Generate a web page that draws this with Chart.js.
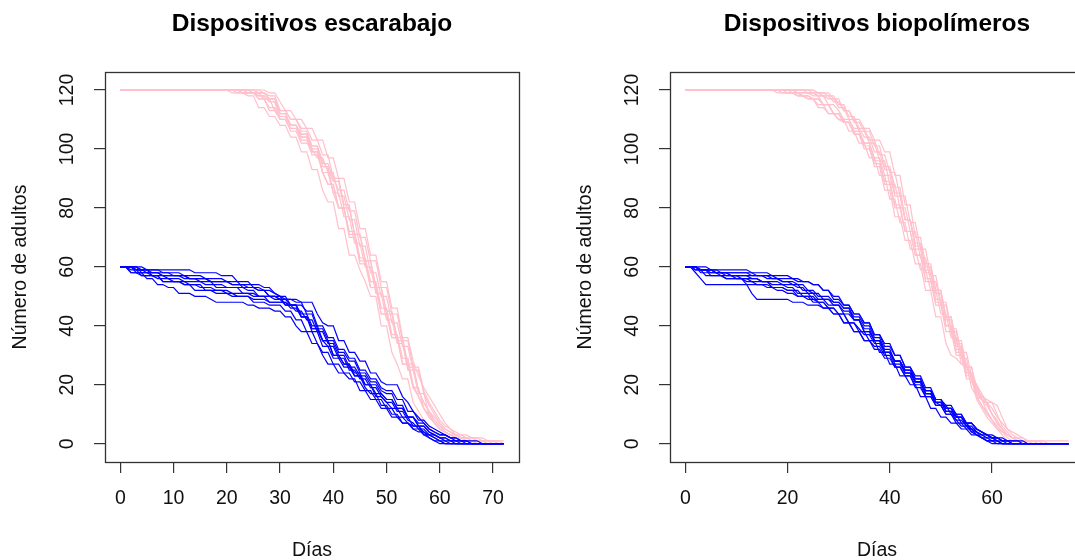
<!DOCTYPE html>
<html>
<head>
<meta charset="utf-8">
<script src="https://cdn.jsdelivr.net/npm/chart.js@4.4.1/dist/chart.umd.min.js"></script>
<style>
html,body{margin:0;padding:0;background:#fff;overflow:hidden;width:1075px;height:560px}
.p{position:absolute;top:0;width:563px;height:560px}
</style>
</head>
<body>
<div class="p" style="left:0"><canvas id="c1" width="563" height="560"></canvas></div>
<div class="p" style="left:565px"><canvas id="c2" width="563" height="560"></canvas></div>
<script>
// ---------- Texts ----------
const tituloEsc = 'Dispositivos escarabajo';
const tituloBio = 'Dispositivos biopolímeros';
const ejeX = 'Días';
const ejeY = 'Número de adultos';

// ---------- Tick labels ----------
const ticksXEsc = [0, 10, 20, 30, 40, 50, 60, 70];
const ticksXBio = [0, 20, 40, 60];
const ticksY = [0, 20, 40, 60, 80, 100, 120];

// ---------- Days ----------
const diasEsc = [0,1,2,3,4,5,6,7,8,9,10,11,12,13,14,15,16,17,18,19,20,21,22,23,24,25,26,27,28,29,
  30,31,32,33,34,35,36,37,38,39,40,41,42,43,44,45,46,47,48,49,50,51,52,53,54,55,56,57,58,59,
  60,61,62,63,64,65,66,67,68,69,70,71,72];
const diasBio = [0,1,2,3,4,5,6,7,8,9,10,11,12,13,14,15,16,17,18,19,20,21,22,23,24,25,26,27,28,29,
  30,31,32,33,34,35,36,37,38,39,40,41,42,43,44,45,46,47,48,49,50,51,52,53,54,55,56,57,58,59,
  60,61,62,63,64,65,66,67,68,69,70,71,72,73,74,75];

// ---------- Escarabajo: pink series (start 120) ----------
const escRosa1 = [120,120,120,120,120,120,120,120,120,120, 120,120,120,120,120,120,120,120,120,120,
  120,119,119,119,118,118,114,114,111,111, 108,108,104,104,99,99,93,93,86,82,
  82,73,73,64,64,59,55,50,50,40, 40,31,27,22,22,14,11,8,6,3, 2,1,1,0,0,0,0,0,0,0, 0,0,0];
const escRosa2 = [120,120,120,120,120,120,120,120,120,120, 120,120,120,120,120,120,120,120,120,120,
  120,120,120,119,119,119,117,117,113,113, 110,110,107,107,103,103,98,98,92,88,
  88,80,80,72,72,63,63,55,55,46, 46,37,37,29,29,20,16,12,9,7, 5,4,3,2,1,1,0,0,0,0, 0,0,0];
const escRosa3 = [120,120,120,120,120,120,120,120,120,120, 120,120,120,120,120,120,120,120,120,120,
  120,120,120,120,120,119,119,117,117,113, 111,111,108,108,104,104,99,99,92,92,
  85,85,77,77,68,68,60,60,51,51, 42,42,34,34,25,25,17,17,10,7, 5,4,3,2,2,1,1,0,0,0, 0,0,0];
const escRosa4 = [120,120,120,120,120,120,120,120,120,120, 120,120,120,120,120,120,120,120,120,120,
  120,120,120,120,120,120,119,119,118,118, 113,113,110,110,106,106,101,101,96,93,
  89,89,80,80,71,71,62,62,53,53, 45,45,36,36,27,27,18,14,11,9, 7,5,4,3,2,1,1,1,0,0, 0,0,0];
const escRosa5 = [120,120,120,120,120,120,120,120,120,120, 120,120,120,120,120,120,120,120,120,120,
  120,120,120,120,120,120,120,120,119,119, 116,113,113,110,110,107,107,103,103,97,
  97,90,90,82,82,73,73,64,64,55, 55,46,46,36,36,28,23,19,16,13, 10,7,5,4,3,3,2,2,2,1, 1,1,0];
const escRosa6 = [120,120,120,120,120,120,120,120,120,120, 120,120,120,120,120,120,120,120,120,120,
  120,120,120,120,119,119,118,118,116,116, 112,112,108,108,105,105,100,100,95,95,
  90,86,86,79,79,70,70,62,62,53, 53,44,44,35,35,26,26,18,14,11, 8,6,5,3,2,2,1,1,1,0, 0,0,0];
const escRosa7 = [120,120,120,120,120,120,120,120,120,120, 120,120,120,120,120,120,120,120,120,120,
  120,120,119,119,119,119,118,118,116,116, 110,110,106,106,102,102,100,97,97,92,
  92,84,84,76,76,67,67,58,58,50, 50,41,41,33,33,25,25,17,13,10, 7,5,4,3,2,2,1,1,1,1, 0,0,0];
const escRosa8 = [120,120,120,120,120,120,120,120,120,120, 120,120,120,120,120,120,120,120,120,120,
  120,120,120,120,120,120,120,119,117,117, 113,113,110,110,107,107,103,103,98,98,
  90,90,81,81,71,71,62,62,53,53, 44,44,35,35,26,26,18,14,11,8, 6,4,3,2,1,1,1,0,0,0, 0,0,0];
const escRosa9 = [120,120,120,120,120,120,120,120,120,120, 120,120,120,120,120,120,120,120,120,120,
  120,120,120,120,120,119,119,119,117,117, 112,112,108,108,104,104,99,99,92,88,
  88,80,80,71,71,62,62,53,53,44, 44,36,36,27,27,19,19,12,9,7, 5,4,3,3,2,2,2,1,1,1, 1,0,0];
const escRosa10 = [120,120,120,120,120,120,120,120,120,120, 120,120,120,120,120,120,120,120,120,120,
  120,120,120,119,119,119,117,117,114,114, 111,111,108,108,105,105,101,101,94,94,
  85,80,80,70,70,61,61,53,53,44, 44,36,36,27,27,19,16,12,10,8, 6,5,4,3,3,2,2,2,1,1, 1,1,1];

// ---------- Escarabajo: blue series (start 60) ----------
const escAzul1 = [60,60,58,58,58,56,56,54,54,53, 53,51,51,51,50,50,50,49,48,48,
  48,48,48,48,47,47,46,46,46,45, 45,43,43,40,38,38,34,34,30,27,
  27,24,24,22,22,18,18,15,15,12, 12,9,9,7,7,5,4,4,2,1, 0,0,0,0,0,0,0,0,0,0, 0,0,0];
const escAzul2 = [60,60,60,58,58,58,57,57,55,55, 55,55,55,54,54,54,52,52,52,52,
  52,51,51,51,51,50,50,50,48,48, 48,48,46,46,43,43,38,38,33,33,
  29,29,26,26,23,23,19,17,17,13, 13,10,10,7,7,5,5,3,3,2, 1,1,0,0,0,0,0,0,0,0, 0,0,0];
const escAzul3 = [60,60,60,60,59,59,59,59,58,58, 58,58,57,57,57,57,56,56,56,56,
  55,55,55,53,53,53,52,52,50,50, 49,49,47,47,44,44,40,40,35,35,
  30,30,27,27,24,24,20,20,17,17, 15,15,12,12,9,9,6,6,4,3, 2,2,1,0,0,0,0,0,0,0, 0,0,0];
const escAzul4 = [60,60,60,60,60,59,59,59,59,59, 59,59,59,59,58,58,58,58,58,57,
  57,57,55,55,55,53,53,52,52,51, 50,49,49,49,48,48,48,44,41,40,
  40,35,35,31,31,28,28,24,24,21, 20,20,20,16,14,11,9,7,5,4, 3,3,2,1,1,0,0,0,0,0, 0,0,0];
const escAzul5 = [60,60,60,59,59,59,58,58,58,58, 57,57,57,56,56,56,56,55,55,55,
  55,54,54,54,53,53,52,52,50,50, 50,47,47,47,43,43,39,39,35,35,
  30,30,27,27,23,23,20,20,16,16, 14,12,12,9,9,6,6,4,3,3, 2,2,1,1,1,1,0,0,0,0, 0,0,0];
const escAzul6 = [60,60,60,60,58,58,58,58,57,57, 57,57,56,56,56,55,55,55,53,53,
  53,53,53,53,52,52,50,50,50,50, 49,49,49,48,48,44,44,39,39,35,
  35,31,31,28,28,24,24,21,21,18, 17,17,13,13,9,9,6,6,4,3, 2,1,1,1,0,0,0,0,0,0, 0,0,0];
const escAzul7 = [60,60,58,58,57,57,57,57,55,55, 55,55,54,54,52,52,52,52,51,51,
  51,50,50,50,50,48,48,48,47,47, 47,45,45,42,42,38,38,34,31,31,
  27,27,24,24,21,21,18,18,15,15, 12,12,9,9,7,6,6,3,2,1, 1,0,0,0,0,0,0,0,0,0, 0,0,0];
const escAzul8 = [60,60,60,59,59,59,57,57,57,56, 56,56,55,55,55,55,54,54,54,54,
  53,53,53,51,51,51,50,50,50,49, 49,47,47,45,45,42,42,38,38,34,
  34,30,30,26,26,23,23,20,20,17, 15,15,12,12,9,9,7,7,5,4, 3,3,2,2,1,1,0,0,0,0, 0,0,0];
const escAzul9 = [60,60,59,59,57,57,57,56,56,56, 55,55,54,54,54,53,53,53,52,52,
  51,51,50,50,50,49,49,49,48,48, 48,48,47,47,47,45,45,40,40,36,
  36,32,32,29,29,25,25,22,22,19, 18,18,15,15,11,11,8,8,6,5, 4,3,2,2,1,1,1,1,0,0, 0,0,0];
const escAzul10 = [60,60,60,59,59,58,58,58,57,57, 57,57,57,56,56,56,56,55,55,55,
  55,54,54,54,54,54,54,53,53,51, 50,50,47,47,43,43,39,39,35,33,
  33,29,29,25,25,22,22,19,19,16, 14,14,11,11,8,7,5,5,3,2, 1,0,0,0,0,0,0,0,0,0, 0,0,0];

// ---------- Biopolímeros: pink series (start 120) ----------
const bioRosa1 = [120,120,120,120,120,120,120,120,120,120, 120,120,120,120,120,120,120,120,119,119,
  119,119,118,118,117,117,115,115,112,112, 110,110,106,106,102,102,97,97,91,91,
  83,83,75,75,66,66,59,59,52,52, 44,44,36,36,27,27,19,16,15,14, 14,10,6,4,2,1,0,0,0,0, 0,0,0,0,0,0];
const bioRosa2 = [120,120,120,120,120,120,120,120,120,120, 120,120,120,120,120,120,120,120,120,120,
  120,120,119,119,119,118,118,115,115,112, 112,109,109,105,105,100,100,95,95,88,
  88,80,80,72,72,64,64,55,55,47, 47,38,38,30,30,22,22,15,12,9, 7,5,4,2,1,1,1,0,0,0, 0,0,0,0,0,0];
const bioRosa3 = [120,120,120,120,120,120,120,120,120,120, 120,120,120,120,120,120,120,120,120,120,
  120,120,120,120,120,119,119,118,118,116, 116,113,113,109,109,106,106,101,101,94,
  94,87,87,76,76,66,66,58,58,49, 49,40,40,31,31,23,23,16,13,10, 8,6,4,3,2,1,1,1,0,0, 0,0,0,0,0,0];
const bioRosa4 = [120,120,120,120,120,120,120,120,120,120, 120,120,120,120,120,120,120,120,120,119,
  119,119,119,118,118,117,117,115,115,112, 112,109,109,105,105,101,101,94,94,86,
  86,77,77,69,69,61,61,52,52,43, 43,34,30,29,27,26,23,20,15,11, 8,5,3,1,0,0,0,0,0,0, 0,0,0,0,0,0];
const bioRosa5 = [120,120,120,120,120,120,120,120,120,120, 120,120,120,120,120,120,120,120,120,120,
  120,120,120,120,120,120,119,119,119,117, 117,113,113,110,110,107,107,103,103,99,
  99,91,91,81,81,70,70,61,61,52, 52,42,42,33,33,24,24,16,13,11, 8,6,4,3,2,2,1,1,1,1, 1,1,1,1,1,1];
const bioRosa6 = [120,120,120,120,120,120,120,120,120,120, 120,120,120,120,120,120,120,120,120,120,
  120,120,119,119,119,119,118,118,117,117, 114,114,110,110,106,106,102,102,96,96,
  88,88,80,80,72,72,63,63,55,55, 47,47,38,38,29,29,21,18,15,13, 10,8,5,3,2,2,1,1,1,0, 0,0,0,0,0,0];
const bioRosa7 = [120,120,120,120,120,120,120,120,120,120, 120,120,120,120,120,120,120,120,120,120,
  119,119,118,118,117,117,114,114,112,112, 110,109,109,106,106,102,102,96,96,89,
  89,81,81,72,72,64,64,56,56,48, 48,40,40,32,32,24,24,17,15,14, 10,7,5,3,2,1,1,0,0,0, 0,0,0,0,0,0];
const bioRosa8 = [120,120,120,120,120,120,120,120,120,120, 120,120,120,120,120,120,120,120,120,120,
  120,120,120,120,119,119,118,118,115,115, 113,110,110,107,107,104,104,99,99,93,
  93,85,85,76,76,68,68,60,60,52, 52,43,43,35,35,26,26,18,16,15, 14,13,9,5,3,2,2,1,1,1, 0,0,0,0,0,0];
const bioRosa9 = [120,120,120,120,120,120,120,120,120,120, 120,120,120,120,120,120,120,120,120,120,
  120,120,120,120,120,120,119,119,118,118, 115,115,111,111,107,107,103,103,98,98,
  92,92,84,84,75,75,66,66,57,57, 48,48,39,39,31,31,23,20,17,14, 10,7,5,3,2,1,0,0,0,0, 0,0,0,0,0,0];
const bioRosa10 = [120,120,120,120,120,120,120,120,120,120, 120,120,120,120,120,120,120,120,120,120,
  120,119,119,118,118,117,117,115,115,112, 112,109,109,106,106,102,102,97,97,91,
  91,84,84,76,76,67,67,59,59,51, 51,43,43,34,34,26,26,19,16,14, 12,9,7,5,4,3,2,1,1,1, 1,0,0,0,0,0];

// ---------- Biopolímeros: blue series (start 60) ----------
const bioAzul1 = [60,60,58,56,54,54,54,54,54,54, 54,54,54,54,54,54,54,53,53,53,
  52,52,52,50,50,50,48,48,46,46, 44,44,41,41,39,37,37,34,34,31,
  31,28,28,24,24,21,21,18,18,14, 13,13,10,10,7,7,4,4,2,1, 1,1,0,0,0,0,0,0,0,0, 0,0,0,0,0,0];
const bioAzul2 = [60,60,60,59,59,57,57,57,56,56, 56,56,54,51,49,49,49,49,49,49,
  49,48,48,48,47,47,47,46,46,44, 44,41,41,38,38,35,35,33,33,30,
  30,26,26,23,23,20,20,16,16,13, 13,10,10,8,6,6,4,3,2,1, 0,0,0,0,0,0,0,0,0,0, 0,0,0,0,0,0];
const bioAzul3 = [60,60,60,60,60,59,59,59,59,59, 59,59,59,58,58,58,58,57,57,57,
  57,56,56,55,55,54,54,52,52,50, 50,47,47,44,44,41,41,37,37,33,
  33,30,30,26,26,22,22,17,17,14, 14,11,11,9,9,6,6,4,3,3, 2,2,1,1,0,0,0,0,0,0, 0,0,0,0,0,0];
const bioAzul4 = [60,60,60,59,59,59,59,58,58,58, 58,58,58,58,57,57,57,56,56,55,
  55,55,54,54,52,52,50,50,50,48, 48,46,46,42,42,38,38,35,35,31,
  31,27,27,24,24,21,21,17,17,14, 14,11,11,8,8,6,5,4,3,2, 2,1,1,0,0,0,0,0,0,0, 0,0,0,0,0,0];
const bioAzul5 = [60,60,59,59,57,57,57,57,56,56, 56,56,56,55,55,55,55,54,54,54,
  53,53,51,51,51,49,49,49,47,47, 47,44,44,42,42,38,38,35,35,31,
  31,28,28,25,25,22,22,18,18,15, 15,12,12,9,9,7,5,5,4,3, 2,1,0,0,0,0,0,0,0,0, 0,0,0,0,0,0];
const bioAzul6 = [60,60,60,58,58,58,58,57,57,57, 57,56,56,56,56,55,55,55,55,54,
  54,54,53,53,51,51,49,49,49,47, 47,45,45,42,42,39,39,35,35,31,
  31,28,28,24,24,21,21,17,17,14, 14,12,12,9,9,7,7,5,4,3, 3,2,2,1,1,1,0,0,0,0, 0,0,0,0,0,0];
const bioAzul7 = [60,60,59,59,59,58,58,58,57,57, 56,56,55,55,54,54,53,53,52,52,
  51,51,50,50,49,49,48,48,46,46, 44,44,41,41,38,38,35,35,31,31,
  27,27,23,23,20,20,16,16,12,12, 9,9,7,7,5,5,3,3,2,1, 1,0,0,0,0,0,0,0,0,0, 0,0,0,0,0,0];
const bioAzul8 = [60,60,60,59,59,59,58,58,58,58, 58,58,58,57,57,57,57,57,56,56,
  56,56,55,55,55,54,54,52,52,49, 49,47,47,44,44,41,41,37,37,34,
  34,30,30,26,26,23,23,19,19,15, 15,12,12,10,10,7,7,5,4,3, 2,2,1,1,1,1,1,0,0,0, 0,0,0,0,0,0];
const bioAzul9 = [60,60,60,59,59,59,58,58,58,57, 57,57,57,56,56,55,55,53,53,53,
  52,52,50,50,50,48,48,46,46,44, 44,41,41,38,38,35,35,32,32,29,
  29,26,26,23,23,19,19,16,16,13, 13,10,10,7,7,5,5,3,2,2, 1,1,0,0,0,0,0,0,0,0, 0,0,0,0,0,0];
const bioAzul10 = [60,60,60,59,59,59,58,58,58,57, 57,57,57,57,57,57,56,56,56,55,
  55,54,54,52,52,51,51,49,49,48, 48,46,46,43,43,40,40,36,36,32,
  32,28,28,25,25,21,21,18,18,15, 15,13,13,10,10,7,7,5,4,3, 2,2,1,1,0,0,0,0,0,0, 0,0,0,0,0,0];

const escRosa = [escRosa1, escRosa2, escRosa3, escRosa4, escRosa5, escRosa6, escRosa7, escRosa8, escRosa9, escRosa10];
const escAzul = [escAzul1, escAzul2, escAzul3, escAzul4, escAzul5, escAzul6, escAzul7, escAzul8, escAzul9, escAzul10];
const bioRosa = [bioRosa1, bioRosa2, bioRosa3, bioRosa4, bioRosa5, bioRosa6, bioRosa7, bioRosa8, bioRosa9, bioRosa10];
const bioAzul = [bioAzul1, bioAzul2, bioAzul3, bioAzul4, bioAzul5, bioAzul6, bioAzul7, bioAzul8, bioAzul9, bioAzul10];

// ---------- Styling ----------
const FONT = "'Liberation Sans', Arial, Helvetica, sans-serif";
const ROSA = '#FFC0CB';
const AZUL = '#0000FF';
const INK = '#111111';
const AXIS = '#333333';

const boxPlugin = {
  id: 'rbox',
  afterDatasetsDraw(chart) {
    const a = chart.chartArea;
    const ctx = chart.ctx;
    ctx.save();
    ctx.strokeStyle = AXIS;
    ctx.lineWidth = 1.3;
    ctx.strokeRect(Math.round(a.left) + 0.5, Math.round(a.top) + 0.5,
      Math.round(a.right - a.left), Math.round(a.bottom - a.top));
    ctx.restore();
  }
};

function makeDatasets(rosa, azul) {
  const ds = [];
  rosa.forEach((s, i) => ds.push({label: 'rosa' + (i + 1), data: s, borderColor: ROSA, order: 1}));
  azul.forEach((s, i) => ds.push({label: 'azul' + (i + 1), data: s, borderColor: AZUL, order: 0}));
  ds.forEach(d => { d.borderWidth = 1.2; d.pointRadius = 0; d.tension = 0; d.fill = false; });
  return ds;
}

function makeChart(id, title, dias, rosa, azul, xTicks, xMin, xMax) {
  const tickFont = {family: FONT, size: 19.5};
  new Chart(document.getElementById(id), {
    type: 'line',
    data: {labels: dias, datasets: makeDatasets(rosa, azul)},
    plugins: [boxPlugin],
    options: {
      responsive: false,
      animation: false,
      events: [],
      layout: {padding: {left: 0, right: 44, top: 0, bottom: 0}},
      plugins: {
        legend: {display: false},
        tooltip: {enabled: false},
        title: {
          display: true, text: title, fullSize: false, color: '#000',
          font: {family: FONT, size: 24.5, weight: 'bold'},
          padding: {top: 9.3, bottom: 33.3}
        }
      },
      scales: {
        x: {
          type: 'linear', min: xMin, max: xMax,
          afterBuildTicks: s => { s.ticks = xTicks.map(v => ({value: v})); },
          afterFit: s => { s.height = 98; },
          grid: {display: true, drawOnChartArea: false, drawTicks: true, tickLength: 11, color: AXIS, lineWidth: 1.2},
          border: {display: false},
          ticks: {font: tickFont, color: INK, padding: 14, maxRotation: 0, autoSkip: false},
          title: {display: true, text: ejeX, color: INK, font: tickFont, padding: {top: 0, bottom: -2}}
        },
        y: {
          type: 'linear', min: -6.2, max: 126.1,
          afterBuildTicks: s => { s.ticks = ticksY.map(v => ({value: v})); },
          afterFit: s => { s.width = 105; },
          grid: {display: true, drawOnChartArea: false, drawTicks: true, tickLength: 11, color: AXIS, lineWidth: 1.2},
          border: {display: false},
          ticks: {font: tickFont, color: INK, padding: 10, minRotation: 90, maxRotation: 90, crossAlign: 'center', autoSkip: false},
          title: {display: true, text: ejeY, color: INK, font: tickFont, padding: {top: 9.3, bottom: 0}}
        }
      }
    }
  });
}

makeChart('c1', tituloEsc, diasEsc, escRosa, escAzul, ticksXEsc, -2.88, 74.88);
makeChart('c2', tituloBio, diasBio, bioRosa, bioAzul, ticksXBio, -3, 78);
</script>
</body>
</html>
